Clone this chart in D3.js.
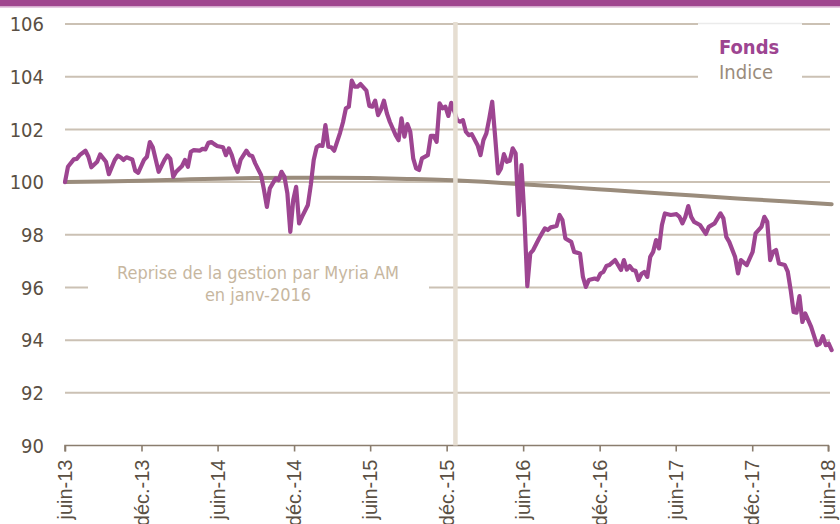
<!DOCTYPE html>
<html lang="fr">
<head>
<meta charset="utf-8">
<script src="https://cdn.jsdelivr.net/npm/d3@7"></script>
<style>
  html, body { margin: 0; padding: 0; background: #fff; }
  svg { display: block; font-family: "DejaVu Sans Condensed", "DejaVu Sans", sans-serif; font-stretch: condensed; }
</style>
</head>
<body>
<svg id="chart" width="840" height="524"></svg>
<script>
// Valeurs liquidatives hebdomadaires (base 100), semaine n = début + 7n jours
const dateDebut = "2013-06-14";

const fondsSemaines = [
  0, 1, 3, 4, 5, 7, 8, 9, 11, 12, 14, 15, 17, 18, 19, 20, 21, 23, 24, 25,
  27, 28, 29, 30, 31, 32, 34, 35, 36, 37, 38, 40, 41, 42, 43, 44, 46, 47, 48, 49,
  50, 51, 52, 54, 55, 56, 57, 58, 59, 60, 62, 63, 64, 65, 67, 68, 69, 70, 71, 72,
  73, 74, 75, 76, 77, 78, 79, 80, 81, 83, 84, 85, 86, 87, 88, 89, 90, 91, 92, 94,
  95, 96, 97, 98, 99, 100, 101, 103, 104, 105, 106, 107, 108, 109, 110, 111, 113, 114, 115, 116,
  117, 118, 119, 120, 121, 122, 124, 125, 126, 127, 128, 129, 130, 131, 132, 133, 134, 135, 136, 137,
  138, 139, 141, 142, 143, 144, 145, 146, 147, 148, 149, 150, 151, 152, 153, 154, 155, 156, 157, 158,
  159, 160, 162, 163, 164, 165, 166, 168, 169, 170, 171, 173, 174, 176, 177, 178, 179, 181, 182, 183,
  184, 185, 186, 188, 190, 191, 192, 193, 194, 195, 196, 197, 198, 199, 200, 201, 202, 203, 204, 205,
  207, 209, 210, 211, 212, 213, 214, 215, 217, 219, 220, 222, 224, 225, 226, 227, 229, 230, 231, 233,
  234, 235, 236, 238, 239, 240, 241, 242, 243, 244, 246, 247, 248, 249, 250, 251, 252, 253, 255, 257,
  258, 259, 260, 261, 262
];
const fondsValeurs = [
  100.00, 100.58, 100.86, 100.88, 101.02, 101.19, 100.96, 100.56, 100.77, 101.05, 100.77, 100.30, 100.84, 101.00, 100.94, 100.84, 100.94, 100.86, 100.43, 100.35,
  100.84, 100.96, 101.52, 101.32, 100.86, 100.39, 100.84, 101.01, 100.88, 100.20, 100.39, 100.61, 100.84, 100.58, 101.15, 101.21, 101.19, 101.26, 101.24, 101.49,
  101.52, 101.44, 101.37, 101.32, 101.02, 101.28, 101.02, 100.64, 100.39, 100.84, 101.19, 101.02, 100.99, 100.71, 100.27, 99.70, 99.06, 99.76, 99.95, 100.14,
  100.07, 100.39, 100.20, 99.57, 98.11, 99.32, 99.82, 98.43, 98.68, 99.13, 99.89, 100.84, 101.32, 101.40, 101.37, 102.16, 101.34, 101.32, 101.19, 101.87,
  102.27, 102.80, 102.86, 103.85, 103.62, 103.62, 103.72, 103.47, 102.89, 102.86, 103.09, 102.54, 102.76, 103.09, 102.61, 102.29, 101.78, 101.59, 102.42, 101.72,
  102.20, 101.91, 100.90, 100.52, 100.46, 100.90, 101.02, 101.75, 101.75, 101.53, 102.99, 102.80, 102.86, 102.51, 103.01, 102.70, 102.35, 102.29, 102.35, 101.91,
  101.78, 101.82, 101.40, 101.02, 101.59, 101.85, 102.42, 103.05, 101.72, 100.33, 100.52, 101.06, 100.77, 100.81, 101.28, 101.09, 98.75, 100.64, 98.68, 96.05,
  97.29, 97.42, 97.86, 98.05, 98.24, 98.18, 98.28, 98.33, 98.75, 98.56, 97.86, 97.73, 97.35, 97.29, 96.40, 96.02, 96.28, 96.34, 96.30, 96.53,
  96.59, 96.81, 96.85, 97.04, 96.66, 97.04, 96.68, 96.81, 96.66, 96.63, 96.28, 96.51, 96.59, 96.40, 97.16, 97.35, 97.80, 97.48, 98.37, 98.81,
  98.75, 98.78, 98.68, 98.43, 98.68, 99.09, 98.68, 98.49, 98.37, 98.03, 98.30, 98.43, 98.81, 98.62, 97.92, 97.73, 97.16, 96.53, 97.04, 96.85,
  97.10, 97.35, 98.05, 98.30, 98.68, 98.49, 97.04, 97.35, 97.42, 96.91, 96.85, 96.60, 95.90, 95.07, 95.04, 95.67, 94.69, 95.01, 94.50, 93.81,
  93.87, 94.15, 93.81, 93.87, 93.62
];

const indiceSemaines = [0, 13, 26, 39, 52, 65, 78, 91, 104, 117, 130, 143, 156, 169, 182, 195, 208, 221, 234, 247, 262];
const indiceValeurs  = [100.00, 100.02, 100.05, 100.09, 100.13, 100.15, 100.16, 100.16, 100.15, 100.12, 100.08, 100.01, 99.92, 99.83, 99.73, 99.63, 99.54, 99.44, 99.35, 99.26, 99.16];

const yTicks = [90, 92, 94, 96, 98, 100, 102, 104, 106];
const tickDates  = ["2013-06-14", "2013-12-14", "2014-06-14", "2014-12-14", "2015-06-14", "2015-12-14",
                    "2016-06-14", "2016-12-14", "2017-06-14", "2017-12-14", "2018-06-14"];
const tickLabels = ["juin-13", "déc.-13", "juin-14", "déc.-14", "juin-15", "déc.-15",
                    "juin-16", "déc.-16", "juin-17", "déc.-17", "juin-18"];

const dateReprise = "2016-01-04";
const noteReprise = ["Reprise de la gestion par Myria AM", "en janv-2016"];
const series = [
  { nom: "Fonds", couleur: "#9d4591", gras: true },
  { nom: "Indice", couleur: "#9a8c7c", gras: false }
];

// ---- dessin ----
const parse = d3.timeParse("%Y-%m-%d");
const debut = parse(dateDebut);
const semaineVersDate = w => d3.timeDay.offset(debut, w * 7);

const fonds  = fondsSemaines.map((w, i) => ({ date: semaineVersDate(w), v: fondsValeurs[i] }));
const indice = indiceSemaines.map((w, i) => ({ date: semaineVersDate(w), v: indiceValeurs[i] }));
const ticks = tickDates.map(parse);

const svg = d3.select("#chart");
const W = 840, H = 524;

const x = d3.scaleTime().domain([ticks[0], ticks[ticks.length - 1]]).range([65, 828.3]);
const y = d3.scaleLinear().domain([90, 106]).range([445.5, 24]);
const xEnd = 830;

// bandeau supérieur
svg.append("rect").attr("x", 0).attr("y", 0).attr("width", W).attr("height", 6.5).attr("fill", "#a0468f");
svg.append("rect").attr("x", 0).attr("y", 6.5).attr("width", W).attr("height", 1.2).attr("fill", "#dcb3d4");

// grille horizontale
svg.append("g").selectAll("line")
  .data(yTicks.filter(t => t !== 90))
  .join("line")
  .attr("x1", x.range()[0]).attr("x2", xEnd)
  .attr("y1", d => y(d)).attr("y2", d => y(d))
  .attr("stroke", "#cbc1b4").attr("stroke-width", 2);

// étiquettes de l'axe vertical
svg.append("g").selectAll("text")
  .data(yTicks)
  .join("text")
  .attr("x", 44).attr("y", d => y(d)).attr("dy", "0.36em")
  .attr("text-anchor", "end")
  .attr("font-size", 20).attr("fill", "#5a4f43")
  .text(d => d);

// axe horizontal
const xAxis = d3.axisBottom(x).tickValues(ticks).tickSize(6).tickFormat((d, i) => tickLabels[i]);
const gx = svg.append("g").attr("transform", `translate(0,${y(90)})`).call(xAxis);
gx.select(".domain").attr("stroke", "#8a7d6e").attr("stroke-width", 1.6).attr("d", `M${x.range()[0]},6V0H${x.range()[1]}V6`);
gx.selectAll(".tick line").attr("stroke", "#8a7d6e").attr("stroke-width", 1.6);
gx.selectAll(".tick text")
  .attr("font-family", null)
  .attr("font-size", 20).attr("fill", "#5a4f43")
  .attr("text-anchor", "end")
  .attr("transform", "translate(0,14) rotate(-90)")
  .attr("x", 0).attr("y", 0).attr("dy", "0.33em");

// encart de la note
svg.append("rect").attr("x", 88).attr("y", 258).attr("width", 341).attr("height", 56).attr("fill", "#fff");
svg.append("g").selectAll("text")
  .data(noteReprise)
  .join("text")
  .attr("x", 258).attr("y", (d, i) => 279 + i * 22)
  .attr("text-anchor", "middle")
  .attr("font-size", 18).attr("fill", "#c7b79f")
  .text(d => d);

// courbes
svg.append("path").datum(indice)
  .attr("d", d3.line().x(d => x(d.date)).y(d => y(d.v)).curve(d3.curveMonotoneX))
  .attr("fill", "none").attr("stroke", series[1].couleur).attr("stroke-width", 4)
  .attr("stroke-linejoin", "round").attr("stroke-linecap", "round");
svg.append("path").datum(fonds)
  .attr("d", d3.line().x(d => x(d.date)).y(d => y(d.v)))
  .attr("fill", "none").attr("stroke", series[0].couleur).attr("stroke-width", 4.2)
  .attr("stroke-linejoin", "round").attr("stroke-linecap", "round");

// repère de la reprise de gestion
const xr = x(parse(dateReprise));
svg.append("line").attr("x1", xr).attr("x2", xr).attr("y1", 22).attr("y2", y(90))
  .attr("stroke", "#e6ded2").attr("stroke-width", 4.5);

// légende
svg.append("rect").attr("x", 698).attr("y", 23).attr("width", 104).attr("height", 64).attr("fill", "#fff");
svg.append("line").attr("x1", 698).attr("x2", 802).attr("y1", 23.5).attr("y2", 23.5)
  .attr("stroke", "#ebebeb").attr("stroke-width", 1.5);
svg.append("g").selectAll("text")
  .data(series)
  .join("text")
  .attr("x", 719).attr("y", (d, i) => 54 + i * 25)
  .attr("font-size", 20)
  .attr("font-weight", d => d.gras ? "bold" : "normal")
  .attr("fill", d => d.couleur)
  .text(d => d.nom);
</script>
</body>
</html>
